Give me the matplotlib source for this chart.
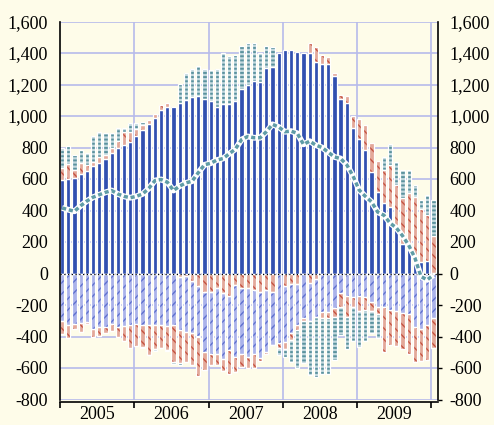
import numpy as np
import matplotlib
matplotlib.use("Agg")
import matplotlib.pyplot as plt
from matplotlib.ticker import FuncFormatter, FixedLocator

# ---------------- data (monthly, Jan 2005 .. Jan 2010) ----------------
years = ["2005", "2006", "2007", "2008", "2009"]

dark_blue = [592, 602, 605, 634, 651, 683, 704, 725, 763, 800, 817, 836,
             876, 910, 950, 990, 1040, 1060, 1060, 1080, 1100, 1120, 1130, 1106,
             1096, 1057, 1079, 1075, 1096, 1170, 1196, 1223, 1217, 1304, 1312, 1403,
             1418, 1418, 1408, 1403, 1403, 1340, 1330, 1330, 1255, 1106, 1085, 926,
             856, 782, 643, 518, 450, 420, 293, 190, 175, 104, 74, 82,
             5]

red = [79, 92, 50, 65, 35, 28, 33, 29, 32, 42, 79, 60,
       40, 30, 25, 20, 30, 20, 0, 0, 0, 0, 0, 0,
       0, 0, 0, 0, 0, 0, 0, 0, 0, 0, 0, 0,
       0, 0, 0, 0, 58, 95, 60, 47, 21, 28, 43, 74,
       123, 161, 187, 195, 204, 272, 266, 290, 338, 384, 338, 288,
       231]
red_neg = [0, 0, 0, 0, 0, 0, 0, 0, 0, 0, 0, 0,
           0, 0, 0, 0, 0, 0, 0, -25, -15, -50, -80, -115,
           -119, -94, -125, -140, -72, -94, -94, -104, -115, -104, -115, 0,
           -81, -64, -64, 0, -59, -32, 0, 0, 0, 0, 0, 0,
           0, 0, 0, 0, 0, 0, 0, 0, 0, 0, 0, 0,
           0]

periwinkle = [-301, -327, -321, -316, -310, -352, -338, -342, -323, -338, -334, -327,
              -323, -325, -330, -330, -330, -335, -330, -335, -355, -330, -320, -382,
              -389, -414, -418, -346, -457, -420, -435, -410, -420, -393, -339, -444,
              -352, -316, -263, -285, -242, -242, -242, -242, -221, -125, -146, -150,
              -140, -150, -180, -210, -215, -230, -240, -250, -260, -340, -350, -330,
              -280]

salmon = [-85, -81, -34, -54, -13, -51, -57, -34, -40, -63, -95, -149,
          -140, -140, -190, -150, -140, -150, -230, -210, -190, -200, -250, -114,
          -74, -70, -77, -155, -95, -78, -74, -89, -21, -17, 0, -32,
          -47, -42, -32, -16, 0, 0, -43, -43, -53, -85, -128, -60,
          -100, -80, -60, -50, -285, -225, -220, -230, -250, -220, -205, -220,
          -190]

teal = [129, 116, 97, 86, 80, 164, 159, 135, 94, 80, 30, 60,
        40, 20, 0, 0, 0, 0, 0, 120, 170, 180, 190, 192,
        196, 241, 320, 309, 294, 276, 269, 238, 186, 142, 128, 0,
        0, 0, 0, 0, 0, 0, 0, 0, 0, 0, 0, 0,
        0, 0, 0, 0, 85, 128, 148, 178, 145, 74, 57, 131,
        230]
teal_neg = [0, 0, 0, 0, 0, 0, 0, 0, 0, 0, 0, 0,
            0, -10, 0, -15, 0, -10, -15, -10, 0, 0, 0, 0,
            0, 0, 0, 0, 0, 0, 0, 0, 0, 0, 0, -42,
            -49, -139, -244, -270, -344, -382, -350, -350, -276, -180, -206, -220,
            -225, -200, -140, -150, 0, 0, 0, 0, 0, 0, 0, 0,
            0]

net_line = [416, 405, 395, 430, 460, 484, 500, 515, 527, 505, 490, 481,
            490, 505, 540, 590, 597, 580, 527, 555, 575, 586, 640, 690,
            700, 720, 730, 760, 790, 850, 870, 862, 862, 900, 947, 930,
            900, 904, 890, 820, 840, 815, 800, 770, 740, 730, 690, 620,
            530, 490, 455, 390, 370, 320, 290, 240, 180, 100, -20, -40,
            -10]

# ---------------- style ----------------
BG = "#fefce9"
GRID = "#b7bbeb"
plt.rcParams["font.family"] = ["Liberation Serif", "DejaVu Serif"]
plt.rcParams["hatch.linewidth"] = 1.0

fig = plt.figure(figsize=(4.94, 4.25), dpi=100, facecolor=BG)
ax = fig.add_axes([60 / 494, 1 - 399.5 / 425, 377.5 / 494, (399.5 - 21.5) / 425])
ax.set_facecolor(BG)

n = len(dark_blue)
x = np.arange(n)
W = 0.68

series = [
    (red_neg, "#e3a899", "#c4503e", "\\\\\\", 1.0),
    (dark_blue, "#3150b0", "#3150b0", None, 1.0),
    (red, "#e3a899", "#c4503e", "\\\\\\", 1.0),
    (periwinkle, "#aab2ea", "#5d6fcf", "///", 1.0),
    (salmon, "#e3a899", "#c4503e", "\\\\\\", 1.0),
    (teal, "#c2d8de", "#5a929e", "----", 1.4),
    (teal_neg, "#c2d8de", "#5a929e", "----", 1.4),
]

pos_base = np.zeros(n)
neg_base = np.zeros(n)
for vals, fill, hc, hatch, hlw in series:
    v = np.array(vals, dtype=float)
    bottom = np.where(v > 0, pos_base, neg_base)
    with plt.rc_context({"hatch.linewidth": hlw}):
        bars = ax.bar(x, v, width=W, bottom=bottom, align="edge", color=fill,
                      edgecolor=hc, hatch=hatch, linewidth=0, zorder=2)
        for b in bars:
            if hasattr(b, "set_hatch_linewidth"):
                b.set_hatch_linewidth(hlw)
    ax.bar(x, v, width=W, bottom=bottom, align="edge", fill=False,
           edgecolor="white", linewidth=0.9, zorder=2.5)
    pos_base += np.where(v > 0, v, 0)
    neg_base += np.where(v < 0, v, 0)

# grid
for yv in range(-800, 1601, 200):
    ax.axhline(yv, color=GRID, lw=1.2, zorder=1)
for xv in [12, 24, 36, 48, 60]:
    ax.axvline(xv, color=GRID, lw=1.2, zorder=1)

ax.axhline(0, color="black", lw=0.9, ls=(0, (1, 2)), zorder=3)

# line
xl = x + W / 2
ax.plot(xl, net_line, color="white", lw=4.2, zorder=4, solid_capstyle="butt")
ax.plot(xl, net_line, color="#5f9ca6", lw=2.5, dashes=(1.2, 0.8), zorder=5)

ax.set_xlim(0, 61)
ax.set_ylim(-800, 1600)

yt = list(range(-800, 1601, 200))
ax.yaxis.set_major_locator(FixedLocator(yt))
ax.yaxis.set_major_formatter(FuncFormatter(lambda v, p: f"{int(v):,}"))
ax.tick_params(axis="y", which="major", left=False, right=True, labelleft=True,
               labelright=True, length=3, width=1, pad=5.6, labelsize=13,
               direction="out", colors="black")
for t, v in zip(ax.yaxis.get_major_ticks(), yt):
    if v > 0:
        t.tick2line.set_visible(False)

ax.xaxis.set_major_locator(FixedLocator([0, 12, 24, 36, 48, 60]))
ax.xaxis.set_minor_locator(FixedLocator([6, 18, 30, 42, 54]))
ax.xaxis.set_major_formatter(FuncFormatter(lambda v, p: ""))
ax.xaxis.set_minor_formatter(FuncFormatter(lambda v, p: years[int(v) // 12]))
ax.tick_params(axis="x", which="major", length=4, width=1.2, direction="out")
ax.tick_params(axis="x", which="minor", length=0, pad=3.5, labelsize=13)

for s in ["left", "right", "bottom"]:
    ax.spines[s].set_color("black")
    ax.spines[s].set_linewidth(1.2)
    ax.spines[s].set_zorder(6)
ax.spines["top"].set_visible(False)
ax.spines["bottom"].set_position(("outward", 1.5))

fig.savefig("out.png", dpi=100, facecolor=BG)
